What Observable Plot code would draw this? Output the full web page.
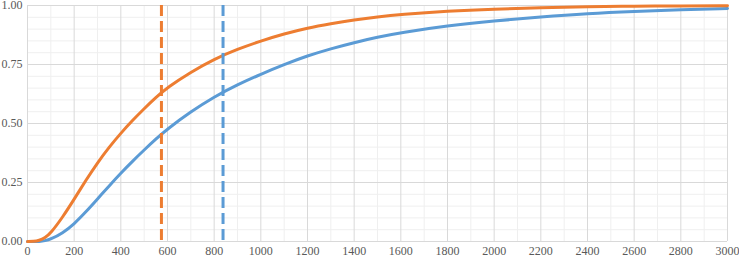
<!DOCTYPE html>
<html>
<head>
<meta charset="utf-8">
<script src="https://cdn.jsdelivr.net/npm/d3@7"></script>
<script src="https://cdn.jsdelivr.net/npm/@observablehq/plot@0.6"></script>
<style>
  html, body { margin: 0; padding: 0; background: #ffffff; }
  #chart { width: 739px; height: 258px; overflow: hidden; }
  #chart svg text { font-family: "Liberation Serif", "DejaVu Serif", serif; }
</style>
</head>
<body>
<div id="chart"></div>
<script>
// x positions where the curves were read
const xValues = [0, 25, 50, 75, 100, 150, 200, 250, 300, 350, 400, 450, 500, 550, 600, 700, 800, 900, 1000, 1100, 1200, 1300, 1400, 1500, 1600, 1800, 2000, 2200, 2400, 2600, 2800, 3000];
// orange series (cumulative fraction)
const orangeValues = [0, 0, 0.004, 0.016, 0.036, 0.102, 0.179, 0.259, 0.334, 0.400, 0.459, 0.513, 0.563, 0.610, 0.653, 0.718, 0.773, 0.815, 0.850, 0.880, 0.905, 0.923, 0.939, 0.952, 0.962, 0.976, 0.985, 0.991, 0.995, 0.997, 0.998, 0.999];
// blue series (cumulative fraction)
const blueValues = [0, 0, 0, 0.003, 0.010, 0.035, 0.074, 0.125, 0.180, 0.236, 0.290, 0.340, 0.388, 0.434, 0.477, 0.550, 0.613, 0.665, 0.709, 0.750, 0.787, 0.817, 0.843, 0.866, 0.885, 0.914, 0.935, 0.952, 0.966, 0.975, 0.982, 0.987];
// dashed marker positions
const orangeMarker = [574];
const blueMarker = [838];
// ticks
const xLabelTicks = [0, 200, 400, 600, 800, 1000, 1200, 1400, 1600, 1800, 2000, 2200, 2400, 2600, 2800, 3000];
const xMinorTicks = [100, 300, 500, 700, 900, 1100, 1300, 1500, 1700, 1900, 2100, 2300, 2500, 2700, 2900];
const yLabelTicks = [0, 0.25, 0.5, 0.75, 1];
const yMinorTicks = [0.05, 0.1, 0.15, 0.2, 0.3, 0.35, 0.4, 0.45, 0.55, 0.6, 0.65, 0.7, 0.8, 0.85, 0.9, 0.95];

const ORANGE = "#ED7D31";
const BLUE = "#5B9BD5";
const FONT = "Liberation Serif";

const orangeData = xValues.map((x, i) => ({x, y: orangeValues[i]}));
const blueData = xValues.map((x, i) => ({x, y: blueValues[i]}));

const chart = Plot.plot({
  width: 739,
  height: 258,
  marginLeft: 27,
  marginRight: 12,
  marginTop: 5,
  marginBottom: 17,
  style: {fontFamily: FONT, fontSize: "12px", color: "#595959", background: "#ffffff"},
  x: {domain: [0, 3000]},
  y: {domain: [0, 1]},
  marks: [
    Plot.ruleX(xMinorTicks, {stroke: "#efefef", strokeWidth: 1}),
    Plot.ruleY(yMinorTicks, {stroke: "#efefef", strokeWidth: 1}),
    Plot.ruleX(xLabelTicks, {stroke: "#d9d9d9", strokeWidth: 1}),
    Plot.ruleY(yLabelTicks, {stroke: "#d9d9d9", strokeWidth: 1}),
    Plot.axisX({ticks: xLabelTicks, tickSize: 0, tickPadding: 5, tickFormat: d => String(d), label: null, fontFamily: FONT, fontSize: 12}),
    Plot.axisY({ticks: yLabelTicks, tickSize: 0, tickPadding: 5, tickFormat: d => d.toFixed(2), label: null, fontFamily: FONT, fontSize: 12}),
    Plot.line(blueData, {x: "x", y: "y", stroke: BLUE, strokeWidth: 3, curve: "basis"}),
    Plot.line(orangeData, {x: "x", y: "y", stroke: ORANGE, strokeWidth: 3, curve: "basis"}),
    Plot.ruleX(orangeMarker, {stroke: ORANGE, strokeWidth: 3, strokeDasharray: "11,5"}),
    Plot.ruleX(blueMarker, {stroke: BLUE, strokeWidth: 3, strokeDasharray: "11,5"})
  ]
});
document.getElementById("chart").appendChild(chart);
</script>
</body>
</html>
